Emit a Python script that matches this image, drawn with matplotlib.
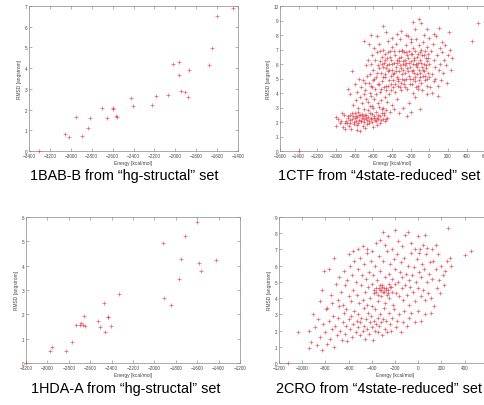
import numpy as np
import matplotlib
matplotlib.use("Agg")
import matplotlib.pyplot as plt

plt.rcParams["font.family"] = ["Liberation Sans", "DejaVu Sans"]

# ── data ──────────────────────────────────────────────────────────────────────
bab_energy = [-3304, -3058, -3016, -2952, -2894, -2840, -2814, -2699, -2651, -2600,
              -2594, -2568, -2555, -2421, -2402, -2222, -2184, -2066, -2018, -1966,
              -1966, -1941, -1906, -1870, -1874, -1675, -1653, -1602, -1451]
bab_rmsd = [0.0, 0.81, 0.69, 1.66, 0.74, 1.13, 1.57, 2.07, 1.58, 2.05,
            2.10, 1.68, 1.65, 2.57, 2.16, 2.23, 2.65, 2.68, 4.20, 4.28,
            3.67, 2.88, 2.84, 3.91, 2.60, 4.14, 4.96, 6.51, 6.90]

hda_energy = [-3200, -2976, -2960, -2826, -2773, -2730, -2692, -2682, -2670, -2654,
              -2645, -2523, -2511, -2470, -2464, -2436, -2430, -2408, -2328, -1923,
              -1910, -1848, -1773, -1748, -1713, -1605, -1586, -1564, -1424]
hda_rmsd = [0.0, 0.49, 0.66, 0.51, 0.85, 1.57, 1.58, 1.65, 1.57, 1.95,
            1.54, 1.73, 1.47, 2.47, 1.29, 1.88, 1.90, 1.51, 2.83, 4.92,
            2.66, 2.39, 3.45, 4.29, 5.22, 5.78, 4.13, 3.79, 4.23]

ctf_points = [
    # low-energy, low-RMSD cluster
    (-1000, 2.35), (-995, 1.75), (-960, 1.9), (-945, 2.1), (-930, 1.65), (-915, 2.45),
    (-900, 1.55), (-890, 2.05), (-880, 1.95), (-870, 2.3), (-860, 1.7), (-850, 2.15),
    (-845, 2.5), (-835, 1.5), (-825, 2.2), (-815, 2.4), (-810, 1.85), (-800, 2.6),
    (-795, 2.25), (-785, 2.1), (-780, 1.45), (-770, 2.35), (-765, 2.7), (-760, 1.95),
    (-750, 2.15), (-745, 2.45), (-740, 1.35), (-735, 2.05), (-725, 2.55), (-720, 2.3),
    (-715, 1.75), (-705, 2.2), (-700, 2.9), (-695, 2.0), (-690, 1.6), (-680, 2.25),
    (-675, 2.45), (-665, 2.15), (-660, 2.8), (-650, 2.1), (-645, 1.9), (-640, 3.1),
    (-630, 2.3), (-625, 2.2), (-615, 2.55), (-605, 1.65), (-600, 2.95), (-590, 2.25),
    (-585, 2.15), (-575, 2.7), (-565, 2.3), (-560, 1.8), (-550, 2.2), (-540, 3.05),
    (-530, 2.4), (-520, 2.15), (-510, 2.65), (-500, 2.2), (-490, 2.45), (-475, 2.1),
    (-460, 2.85), (-450, 2.3),
    (-980, 2.2), (-940, 2.6), (-905, 1.9), (-875, 2.4), (-855, 1.9), (-828, 2.6),
    (-806, 2.0), (-790, 2.4), (-775, 1.8), (-755, 2.5), (-732, 2.1), (-712, 2.4),
    (-686, 2.5), (-668, 1.85), (-652, 2.35), (-636, 2.6), (-618, 2.0), (-596, 2.4),
    (-572, 2.05), (-548, 2.5), (-525, 1.9), (-505, 2.9), (-485, 2.6), (-468, 2.2),
    # middle band
    (-870, 4.3), (-850, 3.9), (-830, 5.5), (-820, 3.2), (-800, 4.6), (-790, 3.5),
    (-775, 4.1), (-760, 3.0), (-750, 5.0), (-740, 3.7), (-730, 4.4), (-720, 3.3),
    (-710, 4.9), (-700, 3.9), (-690, 4.2), (-680, 3.6), (-670, 5.2), (-660, 3.4),
    (-650, 4.7), (-640, 4.0), (-630, 3.8), (-620, 4.5), (-610, 3.1), (-600, 4.9),
    (-590, 3.6), (-580, 4.3), (-570, 3.9), (-560, 5.4), (-550, 3.3), (-540, 4.6),
    (-530, 4.1), (-520, 3.5), (-510, 4.8), (-500, 3.0), (-490, 4.4), (-480, 3.7),
    (-470, 5.1), (-460, 4.2), (-450, 3.4), (-440, 4.5), (-430, 3.9), (-420, 2.7),
    (-410, 4.6), (-400, 3.2), (-390, 4.4), (-380, 2.9), (-370, 4.1), (-350, 3.6),
    (-340, 4.5), (-320, 2.6), (-300, 4.2), (-280, 3.0), (-260, 4.4), (-240, 2.4),
    (-220, 3.3), (-200, 2.7), (-180, 4.0), (-150, 3.7), (-120, 4.3), (-100, 2.9),
    # main cloud
    (-620, 6.0), (-610, 6.6), (-600, 5.6), (-590, 7.1), (-580, 6.3), (-570, 5.1),
    (-560, 6.8), (-550, 5.9), (-540, 7.4), (-530, 6.2), (-520, 5.4), (-510, 6.5),
    (-500, 5.8), (-495, 7.0), (-485, 6.1), (-480, 5.3), (-470, 6.7), (-460, 5.7),
    (-450, 6.4), (-445, 7.6), (-440, 5.5), (-430, 6.0), (-425, 6.9), (-415, 5.2),
    (-410, 6.3), (-400, 5.6), (-395, 7.2), (-390, 4.9), (-380, 6.1), (-375, 5.4),
    (-370, 6.6), (-360, 5.8), (-355, 7.4), (-350, 5.1), (-345, 6.3), (-340, 4.8),
    (-330, 6.9), (-325, 5.5), (-320, 6.2), (-315, 7.7), (-310, 5.9), (-305, 4.7),
    (-300, 6.5), (-295, 5.3), (-290, 7.0), (-285, 6.0), (-280, 5.6), (-275, 6.8),
    (-270, 4.9), (-265, 6.3), (-260, 5.4), (-255, 7.3), (-250, 6.1), (-245, 5.0),
    (-240, 6.6), (-235, 5.7), (-230, 7.9), (-225, 6.4), (-220, 5.2), (-215, 6.9),
    (-210, 5.8), (-205, 4.6), (-200, 6.2), (-195, 7.5), (-190, 5.5), (-185, 6.7),
    (-180, 5.0), (-175, 6.0), (-170, 7.1), (-165, 5.4), (-160, 6.4), (-155, 4.8),
    (-150, 6.9), (-145, 5.9), (-140, 7.7), (-135, 5.3), (-130, 6.5), (-125, 4.5),
    (-120, 6.1), (-115, 7.3), (-110, 5.6), (-105, 6.8), (-100, 5.1), (-95, 6.3),
    (-90, 7.0), (-85, 4.7), (-80, 5.8), (-75, 6.6), (-70, 5.2), (-65, 7.5),
    (-60, 6.0), (-55, 5.5), (-50, 6.9), (-45, 4.9), (-40, 6.4), (-35, 5.7),
    (-30, 7.2), (-25, 5.0), (-20, 6.2), (-15, 6.7), (-10, 5.4), (-5, 7.8), (0, 6.0),
    (-545, 4.6), (-535, 5.7), (-525, 6.9), (-515, 4.3), (-505, 6.0), (-492, 5.1),
    (-478, 6.3), (-466, 4.5), (-455, 5.9), (-448, 6.8), (-436, 4.9), (-427, 5.6),
    (-418, 6.5), (-406, 4.2), (-398, 6.0), (-387, 5.3), (-378, 6.9), (-366, 4.6),
    (-358, 5.5), (-347, 6.1), (-338, 5.0), (-327, 6.4), (-318, 4.4), (-308, 5.7),
    (-298, 6.9), (-288, 5.0), (-278, 6.2), (-268, 4.6), (-258, 5.9), (-248, 6.8),
    (-238, 4.3), (-228, 5.5), (-218, 6.1), (-208, 5.0), (-198, 6.7), (-188, 4.6),
    (-178, 5.6), (-168, 6.3), (-158, 5.1), (-148, 6.0), (-138, 4.4), (-128, 5.8),
    (-118, 6.7), (-108, 4.9), (-98, 5.4), (-88, 6.1), (-78, 4.2), (-68, 5.6),
    (-58, 6.6), (-48, 5.2), (-38, 5.9), (-28, 4.5), (-18, 6.4), (-8, 5.1),
    (-690, 4.7), (-675, 5.9), (-655, 6.3), (-635, 5.3), (-615, 4.4), (-596, 5.0),
    # right part
    (10, 4.4), (20, 6.9), (30, 5.3), (40, 7.4), (50, 4.8), (55, 6.3), (65, 5.8),
    (75, 7.9), (80, 6.6), (90, 4.5), (100, 5.6), (110, 7.1), (115, 6.0), (125, 4.9),
    (135, 6.8), (140, 7.5), (150, 5.4), (160, 6.3), (170, 7.3), (180, 5.9), (190, 4.7),
    (200, 6.6), (210, 8.2), (220, 7.0), (230, 5.6), (240, 6.4), (-30, 3.9), (30, 4.0),
    (60, 5.0), (95, 3.8),
    # upper
    (-700, 7.6), (-650, 7.4), (-630, 8.0), (-560, 7.9), (-500, 8.6), (-460, 8.2),
    (-400, 7.8), (-350, 8.1), (-300, 8.3), (-250, 8.0), (-200, 7.7), (-150, 8.4),
    (-110, 9.1), (-90, 8.8), (-60, 8.0), (-20, 8.4), (50, 8.1), (100, 8.5), (-180, 8.9),
    # outliers
    (-1400, 0.0), (460, 7.6), (520, 8.85), (600, 8.9),
]

cro_points = [
    # lower left
    (-940, 2.0), (-920, 1.3), (-905, 3.0), (-890, 2.2), (-870, 1.1), (-860, 2.7),
    (-845, 1.6), (-830, 0.8), (-820, 2.4), (-805, 1.9), (-795, 3.3), (-785, 1.2),
    (-770, 2.6), (-760, 1.5), (-745, 2.1), (-735, 2.9), (-725, 1.0), (-715, 2.3),
    (-700, 1.7), (-690, 2.8), (-680, 3.5), (-670, 2.0), (-660, 1.4), (-650, 2.5),
    (-640, 3.1), (-630, 1.8), (-620, 2.3), (-610, 1.35), (-600, 2.7),
    # left middle
    (-850, 3.8), (-830, 4.5), (-810, 5.7), (-790, 3.4), (-770, 5.8), (-755, 4.2),
    (-740, 3.7), (-726, 6.5), (-710, 4.9), (-695, 3.9), (-680, 5.3), (-665, 4.4),
    (-650, 3.6), (-640, 5.7), (-630, 4.8), (-620, 3.3), (-610, 5.1), (-600, 4.1),
    (-590, 6.0), (-580, 3.8), (-570, 5.4), (-560, 4.5), (-550, 6.3),
    # central lower
    (-590, 2.1), (-580, 2.9), (-570, 1.6), (-560, 2.4), (-550, 3.2), (-540, 1.9),
    (-530, 2.6), (-520, 2.2), (-515, 3.0), (-505, 1.7), (-500, 2.5), (-490, 2.8),
    (-480, 2.0), (-470, 3.4), (-465, 2.3), (-455, 1.5), (-450, 2.7), (-440, 2.1),
    (-430, 3.1), (-425, 1.8), (-415, 2.5), (-410, 2.9), (-400, 2.2), (-390, 1.4),
    (-385, 2.6), (-375, 3.3), (-370, 2.0), (-360, 2.4), (-350, 2.8), (-345, 1.9),
    (-335, 2.3), (-330, 3.0), (-320, 2.5), (-310, 1.7), (-305, 2.7), (-295, 3.4),
    (-285, 2.1), (-275, 2.6), (-265, 1.9), (-255, 3.1), (-245, 2.4), (-235, 2.0),
    (-225, 2.8), (-210, 3.3), (-195, 2.2), (-180, 2.6), (-165, 3.0), (-150, 1.9),
    (-135, 2.5), (-120, 3.2), (-100, 2.3), (-80, 2.8), (-60, 3.1), (-30, 2.5),
    (0, 3.2), (20, 2.6),
    # core
    (-540, 5.0), (-530, 4.2), (-520, 5.8), (-510, 3.7), (-500, 6.5), (-495, 4.8),
    (-485, 5.4), (-475, 3.9), (-468, 6.1), (-460, 4.4), (-452, 5.2), (-445, 3.6),
    (-438, 6.8), (-430, 4.7), (-422, 5.6), (-415, 4.0), (-408, 6.3), (-400, 4.9),
    (-394, 3.5), (-386, 5.4), (-378, 4.3), (-370, 6.0), (-364, 4.6), (-356, 5.1),
    (-348, 3.8), (-340, 6.6), (-333, 4.5), (-326, 5.7), (-318, 4.1), (-310, 4.8),
    (-304, 6.3), (-296, 4.4), (-290, 5.3), (-283, 3.7), (-276, 4.6), (-270, 6.9),
    (-262, 4.5), (-255, 5.5), (-248, 4.0), (-240, 6.1), (-233, 4.7), (-226, 5.2),
    (-218, 3.6), (-210, 6.4), (-204, 4.9), (-196, 5.8), (-188, 4.3), (-180, 6.7),
    (-173, 5.0), (-166, 4.1), (-158, 5.6), (-150, 6.2), (-143, 4.6), (-136, 5.3),
    (-128, 3.9), (-120, 6.5), (-113, 4.8), (-106, 5.5), (-98, 4.2), (-90, 6.0),
    (-82, 5.1), (-75, 3.6), (-68, 4.7), (-60, 6.8), (-52, 5.4), (-44, 4.4),
    (-36, 5.9), (-28, 3.8), (-20, 5.0), (-12, 6.4), (-4, 4.6), (4, 5.6),
    (12, 7.0), (20, 4.1), (28, 5.3), (36, 6.1), (44, 4.5), (52, 5.8),
    (60, 3.9), (68, 6.7), (76, 5.0), (84, 4.3), (92, 5.5), (100, 6.2),
    (-380, 4.5), (-360, 4.4), (-340, 4.6), (-320, 4.5), (-300, 4.4), (-295, 4.6),
    (-280, 4.5), (-260, 4.3), (-240, 4.7), (-225, 4.4), (-350, 4.2), (-310, 4.7),
    (-270, 4.2), (-330, 4.8), (-250, 4.9),
    # upper
    (-480, 7.2), (-440, 7.0), (-400, 6.9), (-360, 7.4), (-330, 7.6), (-305, 8.1),
    (-290, 7.3), (-260, 7.8), (-230, 7.0), (-200, 8.2), (-170, 7.5), (-140, 7.2),
    (-110, 7.9), (-90, 8.1), (-60, 7.4), (-30, 7.0), (0, 7.8), (10, 6.8),
    (40, 7.3), (60, 7.9), (80, 7.1), (120, 7.0), (150, 7.3), (-560, 6.9),
    (-520, 7.0), (-600, 6.7),
    # right
    (110, 4.0), (120, 5.2), (130, 6.3), (140, 3.5), (150, 5.8), (160, 4.6),
    (170, 6.7), (180, 5.1), (190, 4.3), (200, 6.0), (210, 5.4), (220, 4.8),
    (235, 5.7), (250, 6.3), (270, 6.5), (285, 6.0), (110, 3.1), (60, 3.0),
    # outliers
    (-1122, 0.0), (-1036, 1.9), (-944, 0.9), (257, 8.3), (400, 6.67), (458, 6.9),
]

captions = ["1BAB-B from \u201chg-structal\u201d set",
            "1CTF from \u201c4state-reduced\u201d set",
            "1HDA-A from \u201chg-structal\u201d set",
            "2CRO from \u201c4state-reduced\u201d set"]

# ── figure ────────────────────────────────────────────────────────────────────
W, H = 485, 406
fig = plt.figure(figsize=(W / 100, H / 100), dpi=100)


def px_axes(left, top, width, height):
    return fig.add_axes([left / W, 1 - (top + height) / H, width / W, height / H])


panels = [
    (px_axes(29, 7, 209, 145), bab_energy, bab_rmsd, (-3400, -1400), 200, (0, 7), 1),
    (px_axes(280, 7, 224, 145), [p[0] for p in ctf_points], [p[1] for p in ctf_points],
     (-1600, 800), 200, (0, 10), 1),
    (px_axes(26, 218, 214, 146), hda_energy, hda_rmsd, (-3200, -1200), 200, (0, 6), 1),
    (px_axes(279, 218, 232, 146), [p[0] for p in cro_points], [p[1] for p in cro_points],
     (-1200, 800), 200, (0, 9), 1),
]

gray = "#777777"
for ax, x, y, xlim, xstep, ylim, ystep in panels:
    ax.plot(x, y, linestyle="none", marker="+", ms=2.6, mew=0.5,
            color="#e8404a", alpha=0.85, clip_on=False, zorder=3)
    ax.set_xlim(*xlim)
    ax.set_ylim(*ylim)
    ax.set_xticks(np.arange(xlim[0], xlim[1] + 1, xstep))
    ax.set_yticks(np.arange(ylim[0], ylim[1] + 0.01, ystep))
    ax.tick_params(direction="in", length=2, width=0.4, labelsize=3.3, colors=gray,
                   labelcolor="#444444", pad=1.2, top=True, right=True)
    for s in ax.spines.values():
        s.set_linewidth(0.5)
        s.set_color("#888888")
    ax.set_xlabel("Energy [kcal/mol]", fontsize=3.5, color="#444444", labelpad=1.5)
    ax.set_ylabel("RMSD [angstrom]", fontsize=3.5, color="#444444", labelpad=2)

cap_size = 10.4
fig.text(0.257, 1 - 176.5 / H, captions[0], ha="center", va="center", fontsize=cap_size)
fig.text(0.782, 1 - 176.5 / H, captions[1], ha="center", va="center", fontsize=cap_size)
fig.text(0.260, 1 - 389 / H, captions[2], ha="center", va="center", fontsize=cap_size)
fig.text(0.782, 1 - 389 / H, captions[3], ha="center", va="center", fontsize=cap_size)

fig.savefig("out.png", dpi=100)
